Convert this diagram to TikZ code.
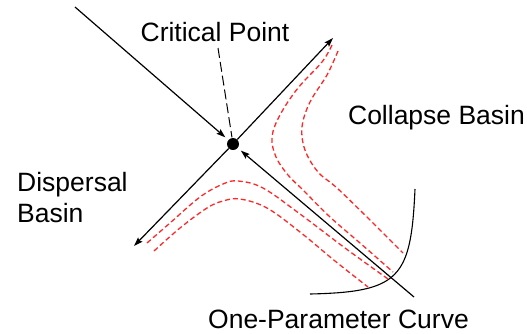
\documentclass[tikz,border=0pt]{standalone}
\usepackage{fontspec}
\setmainfont{Liberation Sans}
\usetikzlibrary{arrows.meta}
\definecolor{dashred}{RGB}{255,40,40}
\begin{document}
\begin{tikzpicture}[x=1pt,y=-1pt,
  blk/.style={line width=1.2pt,black},
  arr/.style={blk,-{Stealth[length=9pt,width=6pt,inset=1.5pt]}},
  basin/.style={line width=1.3pt,dashred,dash pattern=on 5pt off 3pt},
  lbl/.style={font=\fontsize{26.5}{31}\selectfont,inner sep=0pt},
  dotnode/.style={circle,fill=black,minimum size=12pt,inner sep=0pt}]
\useasboundingbox (0,0) rectangle (527,333);
% critical point
\node[dotnode] (cp) at (233,144) {};
\coordinate (ne) at (333,38);
\coordinate (sw) at (134,246);
\coordinate (nw) at (75,7);
\coordinate (se) at (414,297);
\draw[arr] (cp) -- (ne);
\draw[arr] (cp) -- (sw);
\draw[arr,shorten >=4pt] (nw) -- (cp);
\draw[arr,shorten >=4pt] (se) -- (cp);
% labels
\node[lbl] (crit) at (215,32) {Critical Point};
\coordinate (critfoot) at (218,48);
\draw[blk,line width=1pt,dash pattern=on 10pt off 4pt,shorten >=0.5pt] (critfoot) -- (cp);
\node[lbl,anchor=base] (coll) at (436.5,124) {Collapse Basin};
\node[lbl,anchor=west,align=left] (disp) at (17,198) {Dispersal\\Basin};
\node[lbl,anchor=base] (opc) at (338.5,328) {One-Parameter Curve};
% one-parameter curve
\draw[blk,line width=1.1pt] (310,294) .. controls (400,292) and (411,278) .. (415,189);
% basin trajectories
\draw[basin] plot[smooth,tension=0.6] coordinates {(332,45) (322,62) (298,88) (280,115) (272,137) (276,157) (288,175) (303,190) (330,217) (360,243) (393,272)};
\draw[basin] plot[smooth,tension=0.6] coordinates {(338,51) (327,75) (310,102) (302,127) (305,150) (318,172) (337,188) (370,220) (403,253)};
\draw[basin] plot[smooth,tension=0.6] coordinates {(147,243) (170,223) (200,197) (223,184) (238,181) (263,188) (300,214) (345,248) (388,279)};
\draw[basin] plot[smooth,tension=0.6] coordinates {(154,251) (180,228) (207,208) (223,201) (240,199) (267,208) (300,232) (335,261) (368,287)};
\end{tikzpicture}
\end{document}
